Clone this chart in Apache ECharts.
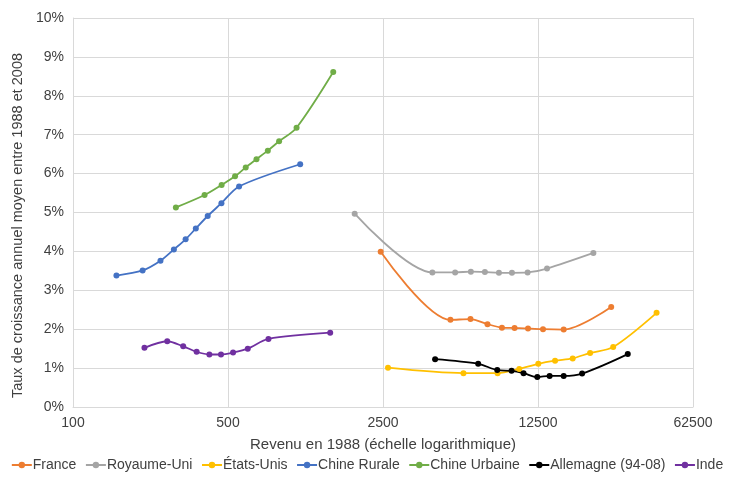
<!DOCTYPE html>
<html><head><meta charset="utf-8">
<script src="https://cdn.jsdelivr.net/npm/echarts@6/dist/echarts.min.js"></script>
<style>html,body{margin:0;padding:0;background:#fff}#c{width:734px;height:479px}</style>
</head><body><div id="c"></div>
<script>
var seriesNames = ['France','Royaume-Uni','États-Unis','Chine Rurale','Chine Urbaine','Allemagne (94-08)','Inde'];
var colors = ['#ED7D31','#A5A5A5','#FFC000','#4472C4','#70AD47','#000000','#7030A0'];
var xTicks = [100, 500, 2500, 12500, 62500];

var franceX = [2441, 5035, 6200, 7399, 8596, 9800, 11270, 13170, 16320, 26730];
var franceY = [3.99, 2.24, 2.26, 2.13, 2.04, 2.03, 2.02, 2.00, 1.99, 2.57];
var ukX = [1863, 4174, 5288, 6226, 7202, 8331, 9539, 11220, 13730, 22220];
var ukY = [4.97, 3.46, 3.46, 3.48, 3.47, 3.45, 3.45, 3.46, 3.56, 3.96];
var usX = [2633, 5764, 8212, 10290, 12540, 14920, 17920, 21470, 27290, 42820];
var usY = [1.01, 0.87, 0.87, 0.98, 1.11, 1.19, 1.25, 1.39, 1.54, 2.42];
var ruralX = [157, 206, 248, 285, 322, 358, 405, 467, 561, 1058];
var ruralY = [3.38, 3.51, 3.76, 4.05, 4.31, 4.59, 4.91, 5.24, 5.67, 6.24];
var urbanX = [291, 392, 468, 538, 601, 672, 756, 850, 1019, 1491];
var urbanY = [5.13, 5.45, 5.71, 5.93, 6.16, 6.37, 6.59, 6.83, 7.18, 8.61];
var germanyX = [4294, 6717, 8186, 9499, 10760, 12410, 14100, 16320, 19760, 31750];
var germanyY = [1.23, 1.11, 0.95, 0.93, 0.87, 0.77, 0.80, 0.80, 0.86, 1.36];
var indiaX = [210, 266, 314, 361, 412, 465, 527, 614, 761, 1445];
var indiaY = [1.52, 1.69, 1.56, 1.42, 1.35, 1.35, 1.40, 1.50, 1.75, 1.91];

var allX = [franceX, ukX, usX, ruralX, urbanX, germanyX, indiaX];
var allY = [franceY, ukY, usY, ruralY, urbanY, germanyY, indiaY];

function pairs(xs, ys){ return xs.map(function(x,i){ return [x, ys[i]]; }); }

var font = 'Liberation Sans, Arial, sans-serif';
var chart = echarts.init(document.getElementById('c'));
chart.setOption({
  animation: false,
  color: colors,
  textStyle: {fontFamily: font},
  grid: {left: 73, right: 41, top: 18, bottom: 72},
  legend: {
    bottom: 2, left: 'center', itemGap: 8.5, itemWidth: 20, itemHeight: 8,
    textStyle: {fontSize: 14, color: '#404040', fontFamily: font, padding: [0,0,0,-4]},
    data: seriesNames
  },
  xAxis: {
    type: 'log', logBase: 5, min: 100, max: 62500,
    name: 'Revenu en 1988 (échelle logarithmique)', nameLocation: 'middle', nameGap: 30,
    nameTextStyle: {fontSize: 15, color: '#404040', fontFamily: font},
    axisLine: {show: true, lineStyle: {color: '#d9d9d9'}},
    axisTick: {show: false, customValues: xTicks},
    axisLabel: {fontSize: 14, color: '#404040', margin: 9, fontFamily: font,
      customValues: xTicks, formatter: function(v){ return String(Math.round(v)); }},
    splitLine: {show: true, lineStyle: {color: '#d9d9d9'}},
    minorTick: {show: false}
  },
  yAxis: {
    type: 'value', min: 0, max: 10, interval: 1,
    name: 'Taux de croissance annuel moyen entre 1988 et 2008', nameLocation: 'middle', nameGap: 44,
    nameTextStyle: {fontSize: 14.5, color: '#404040', fontFamily: font, padding: [0, 26, 0, 0]},
    axisLine: {show: true, lineStyle: {color: '#d9d9d9'}},
    axisTick: {show: false},
    axisLabel: {fontSize: 14, color: '#404040', margin: 9, formatter: '{value}%', fontFamily: font},
    splitLine: {show: true, lineStyle: {color: '#d9d9d9'}}
  },
  series: seriesNames.map(function(n, i){
    return {
      name: n, type: 'line', smooth: 0.3,
      data: pairs(allX[i], allY[i]),
      symbol: 'circle', symbolSize: 6,
      lineStyle: {width: 1.8, color: colors[i]},
      itemStyle: {color: colors[i]}
    };
  })
});
</script>
</body></html>
